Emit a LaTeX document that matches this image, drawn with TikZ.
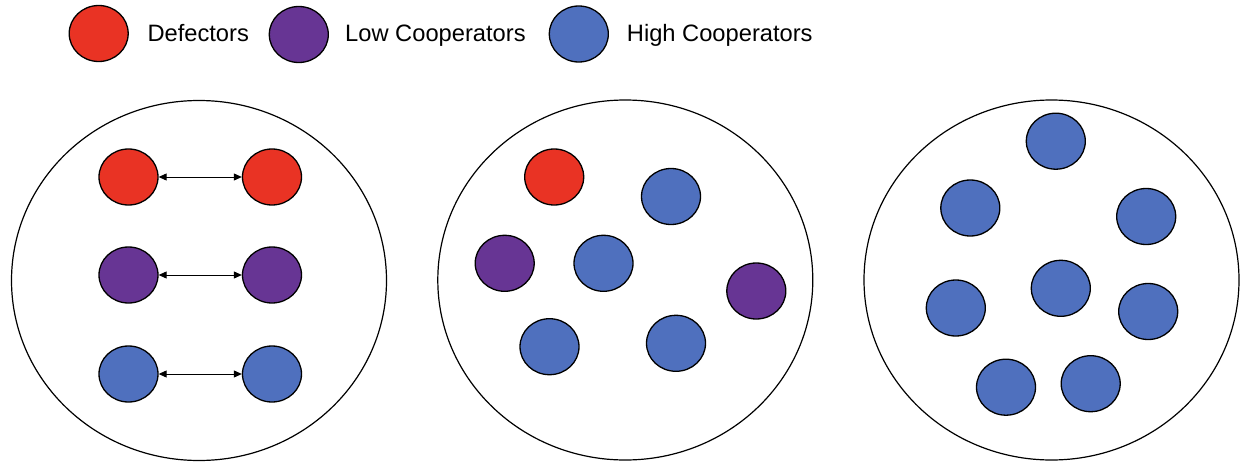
\documentclass[tikz,border=0pt]{standalone}
\usepackage{fontspec}
\setmainfont{Liberation Sans}
\usetikzlibrary{shapes.geometric,arrows.meta}
\definecolor{defred}{RGB}{233,51,36}
\definecolor{lowpurple}{RGB}{103,53,148}
\definecolor{highblue}{RGB}{79,112,190}
\tikzset{
  agent/.style={ellipse,draw=black,line width=1.3pt,minimum width=59pt,minimum height=56pt,inner sep=0pt},
  defector/.style={agent,fill=defred},
  lowcoop/.style={agent,fill=lowpurple},
  highcoop/.style={agent,fill=highblue},
  group/.style={ellipse,draw=black,line width=1.2pt,minimum width=375pt,minimum height=360pt,inner sep=0pt},
  legendtext/.style={anchor=base west,inner sep=0pt,font=\fontsize{23.7}{28}\selectfont},
  link/.style={{Triangle[length=8pt,width=7pt]}-{Triangle[length=8pt,width=7pt]},line width=0.9pt}
}
\begin{document}
\begin{tikzpicture}[x=1pt,y=-1pt]
\useasboundingbox (0,0) rectangle (1244,463);

% legend
\node[defector] (legD) at (98.7,33.5) {};
\node[legendtext] (legDt) at (147.3,41.7) {Defectors};
\node[lowcoop] (legL) at (298.8,34.5) {};
\node[legendtext] (legLt) at (345,41.7) {Low Cooperators};
\node[highcoop] (legH) at (578.8,34) {};
\node[legendtext] (legHt) at (626.7,41.7) {High Cooperators};

% group outlines
\node[group] (g1) at (199,280.5) {};
\node[group] (g2) at (625.3,280) {};
\node[group] (g3) at (1051.5,280) {};

% first group: paired agents of the same type
\node[defector] (a1) at (128.5,177) {};
\node[defector] (b1) at (272,177) {};
\node[lowcoop]  (a2) at (128.5,275) {};
\node[lowcoop]  (b2) at (272,275) {};
\node[highcoop] (a3) at (128.5,374) {};
\node[highcoop] (b3) at (272,374) {};
\draw[link] (a1.east) -- (b1.west);
\draw[link] (a2.east) -- (b2.west);
\draw[link] (a3.east) -- (b3.west);

% second group: mixed population
\node[defector] (m1) at (554.2,177) {};
\node[highcoop] (m2) at (671,196.5) {};
\node[lowcoop]  (m3) at (504.7,263.3) {};
\node[highcoop] (m4) at (603.5,263.3) {};
\node[lowcoop]  (m5) at (756.3,291) {};
\node[highcoop] (m6) at (549.5,346.7) {};
\node[highcoop] (m7) at (676,343.3) {};

% third group: high cooperators only
\node[highcoop] (h1) at (1055.8,141.2) {};
\node[highcoop] (h2) at (970.3,208) {};
\node[highcoop] (h3) at (1146.2,216.5) {};
\node[highcoop] (h4) at (955.8,308) {};
\node[highcoop] (h5) at (1060.8,288.3) {};
\node[highcoop] (h6) at (1148.2,311.5) {};
\node[highcoop] (h7) at (1006,387.2) {};
\node[highcoop] (h8) at (1090.7,383.7) {};
\end{tikzpicture}
\end{document}
